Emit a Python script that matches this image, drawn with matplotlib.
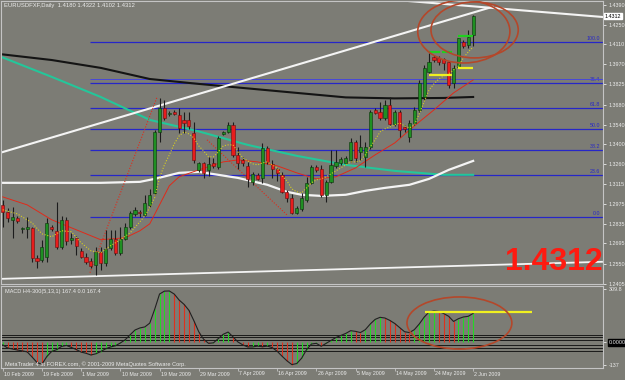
import matplotlib.pyplot as plt
from matplotlib.patches import Ellipse, Rectangle
from matplotlib.transforms import blended_transform_factory

plt.rcParams['font.family'] = ['Liberation Sans', 'DejaVu Sans']

# EURUSD daily bars, 10 Feb 2009 .. 2 Jun 2009
opens = [1.2968, 1.2918, 1.2862, 1.2876, 1.2798, 1.2798, 1.2805, 1.2592, 1.2577, 1.2599,
         1.2812, 1.2784, 1.2670, 1.2862, 1.2720, 1.2734, 1.2641, 1.2599, 1.2570, 1.2542,
         1.2634, 1.2556, 1.2663, 1.2727, 1.2627, 1.2727, 1.2812, 1.2904, 1.2918, 1.2897,
         1.2968, 1.3054, 1.3488, 1.3658, 1.3615, 1.3629, 1.3608, 1.3573, 1.3573, 1.3480,
         1.3217, 1.3267, 1.3217, 1.3267, 1.3239, 1.3473, 1.3488, 1.3537, 1.3324, 1.3288,
         1.3246, 1.3132, 1.3182, 1.3160, 1.3374, 1.3260, 1.3224, 1.3182, 1.3061, 1.3018,
         1.2911, 1.2940, 1.3004, 1.3125, 1.3239, 1.3224, 1.3040, 1.3132, 1.3246, 1.3267,
         1.3267, 1.3288, 1.3417, 1.3345, 1.3310, 1.3381, 1.3644, 1.3630, 1.3587, 1.3679,
         1.3544, 1.3630, 1.3523, 1.3452, 1.3551, 1.3644, 1.3736, 1.3914, 1.4021, 1.4014,
         1.4007, 1.3985, 1.3836, 1.3950, 1.4127, 1.4106, 1.4180]
highs = [1.3004, 1.2947, 1.2954, 1.2890, 1.2812, 1.2883, 1.2812, 1.2613, 1.2720, 1.2876,
         1.2826, 1.2990, 1.2890, 1.2883, 1.2770, 1.2748, 1.2663, 1.2627, 1.2592, 1.2670,
         1.2670, 1.2791, 1.2791, 1.2791, 1.2812, 1.2840, 1.2925, 1.2954, 1.2933, 1.3040,
         1.3082, 1.3502, 1.3729, 1.3715, 1.3636, 1.3644, 1.3658, 1.3629, 1.3629, 1.3559,
         1.3274, 1.3274, 1.3310, 1.3303, 1.3459, 1.3494, 1.3559, 1.3559, 1.3381, 1.3310,
         1.3274, 1.3203, 1.3196, 1.3410, 1.3388, 1.3288, 1.3231, 1.3203, 1.3075, 1.3047,
         1.2961, 1.3054, 1.3168, 1.3253, 1.3253, 1.3253, 1.3146, 1.3359, 1.3359, 1.3310,
         1.3317, 1.3445, 1.3431, 1.3466, 1.3416, 1.3643, 1.3658, 1.3700, 1.3715, 1.3736,
         1.3644, 1.3644, 1.3537, 1.3573, 1.3665, 1.3857, 1.3964, 1.4049, 1.4035, 1.4028,
         1.4014, 1.3992, 1.3964, 1.4156, 1.4142, 1.4213, 1.4322]
lows = [1.2812, 1.2848, 1.2734, 1.2840, 1.2770, 1.2734, 1.2563, 1.2520, 1.2563, 1.2563,
        1.2784, 1.2656, 1.2656, 1.2684, 1.2690, 1.2613, 1.2592, 1.2548, 1.2520, 1.2471,
        1.2506, 1.2535, 1.2648, 1.2613, 1.2613, 1.2720, 1.2798, 1.2890, 1.2883, 1.2890,
        1.2954, 1.3040, 1.3417, 1.3573, 1.3601, 1.3608, 1.3480, 1.3480, 1.3509, 1.3267,
        1.3203, 1.3161, 1.3175, 1.3231, 1.3224, 1.3466, 1.3480, 1.3310, 1.3224, 1.3246,
        1.3097, 1.3111, 1.3146, 1.3125, 1.3260, 1.3160, 1.3139, 1.3054, 1.2990, 1.2904,
        1.2904, 1.2925, 1.2990, 1.3118, 1.3203, 1.3025, 1.2990, 1.3125, 1.3231, 1.3253,
        1.3260, 1.3274, 1.3274, 1.3288, 1.3238, 1.3366, 1.3615, 1.3573, 1.3573, 1.3537,
        1.3530, 1.3452, 1.3488, 1.3417, 1.3537, 1.3630, 1.3715, 1.3907, 1.3985, 1.3964,
        1.3928, 1.3800, 1.3800, 1.3950, 1.4085, 1.4085, 1.4102]
closes = [1.2918, 1.2876, 1.2883, 1.2855, 1.2805, 1.2812, 1.2592, 1.2570, 1.2670, 1.2840,
          1.2798, 1.2670, 1.2862, 1.2713, 1.2734, 1.2677, 1.2599, 1.2563, 1.2535, 1.2634,
          1.2556, 1.2655, 1.2727, 1.2627, 1.2727, 1.2812, 1.2911, 1.2933, 1.2911, 1.2982,
          1.3040, 1.3488, 1.3658, 1.3587, 1.3622, 1.3615, 1.3516, 1.3551, 1.3530, 1.3288,
          1.3267, 1.3196, 1.3260, 1.3246, 1.3445, 1.3484, 1.3537, 1.3324, 1.3267, 1.3267,
          1.3153, 1.3189, 1.3153, 1.3374, 1.3274, 1.3224, 1.3196, 1.3061, 1.3018, 1.2911,
          1.2947, 1.3018, 1.3125, 1.3239, 1.3217, 1.3040, 1.3132, 1.3253, 1.3274, 1.3296,
          1.3303, 1.3417, 1.3303, 1.3381, 1.3381, 1.3630, 1.3622, 1.3587, 1.3679, 1.3544,
          1.3630, 1.3502, 1.3509, 1.3551, 1.3644, 1.3836, 1.3943, 1.3985, 1.4000, 1.3985,
          1.3978, 1.3822, 1.3943, 1.4156, 1.4099, 1.4163, 1.4312]

# moving averages, sampled at bar indices
black_ma_bars = [0, 10, 20, 30, 40, 50, 60, 70, 80, 90, 96]
black_ma = [1.4039, 1.3999, 1.3943, 1.3864, 1.3829, 1.3797, 1.3765, 1.3733, 1.3726, 1.3729, 1.3736]
teal_ma_bars = [0, 10, 20, 30, 40, 50, 60, 70, 80, 90, 96]
teal_ma = [1.4017, 1.3879, 1.3736, 1.3573, 1.3491, 1.3395, 1.3317, 1.3253, 1.3210, 1.3182, 1.3182]
red_ma_bars = [0, 5, 10, 15, 20, 25, 28, 30, 32, 34, 36, 40, 45, 48, 52, 56, 60, 64, 68,
               72, 76, 80, 84, 88, 92, 96]
red_ma = [1.3025, 1.2968, 1.2862, 1.2791, 1.2720, 1.2734, 1.2784, 1.2833, 1.2968, 1.3104,
          1.3168, 1.3217, 1.3274, 1.3288, 1.3274, 1.3246, 1.3196, 1.3153, 1.3168, 1.3231,
          1.3324, 1.3409, 1.3530, 1.3644, 1.3765, 1.3857]
white_ma_bars = [0, 10, 20, 28, 31, 36, 40, 44, 48, 54, 58, 61, 65, 70, 74, 78, 83, 87, 91, 96]
white_ma = [1.3125, 1.3125, 1.3125, 1.3132, 1.3153, 1.3196, 1.3203, 1.3182, 1.3160, 1.3111,
            1.3061, 1.3040, 1.3032, 1.3040, 1.3068, 1.3089, 1.3111, 1.3153, 1.3217, 1.3281]
yellow_ma_bars = [0, 3, 6, 8, 10, 12, 14, 16, 18, 20, 22, 24, 26, 28, 29, 30, 31, 32, 33, 34,
                  35, 36, 37, 38, 39, 40, 41, 42, 43, 44, 45, 46, 47, 48, 49, 50, 51, 52, 53,
                  54, 55, 56, 57, 58, 59, 60, 61, 62, 63, 64, 65, 66, 67, 68, 69, 70, 71, 72,
                  73, 74, 75, 76, 77, 78, 79, 80, 81, 82, 83, 84, 85, 86, 87, 88, 89, 90, 91,
                  92, 93, 94, 95, 96]
yellow_ma = [1.2933, 1.2904, 1.2840, 1.2762, 1.2741, 1.2784, 1.2777, 1.2698, 1.2641, 1.2627,
             1.2677, 1.2720, 1.2769, 1.2848, 1.2890, 1.2947, 1.3018, 1.3160, 1.3253, 1.3324,
             1.3402, 1.3459, 1.3487, 1.3473, 1.3445, 1.3388, 1.3352, 1.3310, 1.3310, 1.3345,
             1.3388, 1.3395, 1.3395, 1.3345, 1.3303, 1.3281, 1.3260, 1.3253, 1.3267, 1.3274,
             1.3253, 1.3231, 1.3175, 1.3139, 1.3082, 1.3061, 1.3054, 1.3089, 1.3125, 1.3146,
             1.3153, 1.3168, 1.3189, 1.3210, 1.3231, 1.3253, 1.3274, 1.3274, 1.3281, 1.3324,
             1.3381, 1.3431, 1.3487, 1.3509, 1.3523, 1.3537, 1.3551, 1.3530, 1.3516, 1.3537,
             1.3616, 1.3701, 1.3786, 1.3829, 1.3864, 1.3886, 1.3900, 1.3928, 1.3957, 1.4014,
             1.4056, 1.4092]

# drawn objects: (bar, price) end points
white_up_line = [(0, 1.3344), (100, 1.4378)]
white_down_line = [(81, 1.4424), (122.5, 1.4305)]
white_bottom_line = [(0, 1.2442), (122.3, 1.2563)]
red_dot_line_a = [(17.8, 1.2485), (31.5, 1.3736)]
red_dot_line_b = [(41.7, 1.3431), (58, 1.2897)]
yellow_marks = [((87, 91.7), 1.3893), ((92.9, 96), 1.3943)]
green_marks = [((87, 89.2), 1.4053), ((89.6, 91.7), 1.4053), ((92.9, 96), 1.4170)]
fib_start_bar = 17.8
fib_low, fib_high = 1.2885, 1.4130
fib_levels = [0.0, 23.6, 38.2, 50.0, 61.8, 76.4, 100.0]
fib_extra = 78.6

price_ticks = [1.4390, 1.4250, 1.4110, 1.3970, 1.3825, 1.3680, 1.3540, 1.3400, 1.3260,
               1.3115, 1.2975, 1.2835, 1.2695, 1.2550, 1.2405]
last_price = 1.4312

# MACD H4-300(5,13,1)
macd = [-17, -35, -41, -47, -52, -58, -88, -120, -130, -85, -55, -45, -26, -20, -32, -44,
        -59, -66, -76, -69, -56, -40, -29, -22, -6, 13, 42, 70, 82, 88, 110, 190, 280, 297,
        298, 280, 245, 220, 185, 125, 60, 16, -8, -5, 20, 45, 58, 30, 0, -17, -29, -29, -24,
        -28, -24, -33, -54, -83, -110, -132, -126, -95, -45, -12, -8, -25, -8, 9, 26, 38, 50,
        66, 62, 55, 72, 105, 132, 144, 140, 126, 108, 84, 60, 55, 72, 105, 145, 175, 181,
        178, 166, 150, 120, 136, 146, 150, 167]
macd_levels = [41, 27, 12, -17, -37, -53]
macd_yellow = ((86.2, 108), 175)

date_bars = [0, 8, 16, 24, 32, 40, 48, 56, 64, 72, 80, 88, 96]
date_labels = ["10 Feb 2009", "19 Feb 2009", "1 Mar 2009", "10 Mar 2009", "19 Mar 2009",
               "29 Mar 2009", "7 Apr 2009", "16 Apr 2009", "26 Apr 2009", "5 May 2009",
               "14 May 2009", "24 May 2009", "2 Jun 2009"]

bg = '#7c7c75'
txt = '#ececec'
border = '#c4c4c4'
fib_blue = '#2626c8'
oval = '#b4472a'

fig = plt.figure(figsize=(6.25, 3.8), dpi=100, facecolor=bg)
ax = fig.add_axes([1 / 625, 1 - 284 / 380, 602 / 625, 283 / 380], facecolor=bg)
ax.set_xlim(-0.35, 122.5)
ax.set_ylim(1.2407, 1.4419)

# fibonacci
for lv in fib_levels:
    p = fib_low + (fib_high - fib_low) * lv / 100
    ax.hlines(p, fib_start_bar, 122.5, color=fib_blue, lw=0.9, zorder=1)
    ax.text(121.9, p + 0.0007, '%.1f' % lv, color=fib_blue, fontsize=3.8,
            ha='right', va='bottom', zorder=1)
p = fib_low + (fib_high - fib_low) * fib_extra / 100
ax.hlines(p, fib_start_bar, 122.5, color='#4848d8', lw=0.7, zorder=1)

# moving averages
ax.plot(black_ma_bars, black_ma, color='#141414', lw=1.5, zorder=2)
ax.plot(teal_ma_bars, teal_ma, color='#24c69a', lw=1.5, zorder=2)
ax.plot(white_ma_bars, white_ma, color='#f4f4f4', lw=1.6, zorder=2)
ax.plot(red_ma_bars, red_ma, color='#e02a1a', lw=0.7, zorder=2)

# trend lines
for line, col, lw, ls in [(white_up_line, '#f4f4f4', 1.5, '-'),
                          (white_down_line, '#f4f4f4', 1.5, '-'),
                          (white_bottom_line, '#f4f4f4', 1.3, '-'),
                          (red_dot_line_a, '#e02a1a', 0.8, (0, (1, 1.5))),
                          (red_dot_line_b, '#e02a1a', 0.8, (0, (1, 1.5)))]:
    ax.plot([line[0][0], line[1][0]], [line[0][1], line[1][1]], color=col, lw=lw, ls=ls,
            zorder=2)

# candles
for i in range(len(opens)):
    o, h, l, c = opens[i], highs[i], lows[i], closes[i]
    ax.vlines(i, l, h, color='#1c1c1c', lw=0.8, zorder=3)
    up = c >= o
    face = '#1f8f22' if up else '#e81c1c'
    edge = '#0c300c' if up else '#6a0f0f'
    body = max(abs(c - o), 0.0005)
    ax.add_patch(Rectangle((i - 0.32, min(o, c)), 0.64, body, facecolor=face,
                           edgecolor=edge, lw=0.4, zorder=4))

ax.plot(yellow_ma_bars, yellow_ma, color='#d8d020', lw=0.8, ls=(0, (1, 1.5)), zorder=5)

for (x0, x1), p in yellow_marks:
    ax.hlines(p, x0, x1, color='#f0f020', lw=1.6, zorder=5)
for (x0, x1), p in green_marks:
    ax.hlines(p, x0, x1, color='#20d020', lw=1.6, zorder=5)

ax.add_patch(Ellipse((94.1, 1.4202), 18.8, 0.0448, fill=False, edgecolor=oval, lw=1.2,
                     zorder=6))
ax.add_patch(Ellipse((96.3, 1.4213), 17.8, 0.0398, fill=False, edgecolor=oval, lw=1.2,
                     zorder=6))

ax.text(102.5, 1.2560, '1.4312', color='#ff1a10', fontsize=23, fontweight='bold',
        ha='left', va='center', zorder=7)

ax.yaxis.tick_right()
ax.set_yticks(price_ticks)
ax.set_yticklabels(['%.4f' % t for t in price_ticks])
ax.tick_params(axis='y', colors=txt, labelsize=3.9, length=2, width=0.6, pad=2)
ax.set_xticks([])
for s in ax.spines.values():
    s.set_color(border)
    s.set_linewidth(0.8)
ax.text(1.003, last_price, '%.4f' % last_price, transform=blended_transform_factory(
        ax.transAxes, ax.transData), fontsize=3.9, color='black', ha='left', va='center',
        bbox=dict(facecolor='white', edgecolor='white', pad=0.3), zorder=8)

fig.text(4 / 625, 1 - 6 / 380, 'EURUSDFXF,Daily  %.4f %.4f %.4f %.4f'
         % (opens[-1], highs[-1], lows[-1], closes[-1]), color=txt, fontsize=4.2, va='center')

# MACD pane
ax2 = fig.add_axes([1 / 625, 1 - 368 / 380, 602 / 625, 82 / 380], facecolor=bg)
ax2.set_xlim(-0.35, 122.5)
ax2.set_ylim(-152, 327)
ax2.hlines(macd_levels, -0.35, 122.5, color='#1a1a1a', lw=0.7, zorder=1)
bar_cols = ['#24d824' if i == 0 or macd[i] >= macd[i - 1] else '#e0301c'
            for i in range(len(macd))]
ax2.vlines(range(len(macd)), 0, macd, colors=bar_cols, lw=0.8, zorder=2)
ax2.plot(range(len(macd)), macd, color='#202020', lw=0.8, zorder=3)
(x0, x1), v = macd_yellow
ax2.hlines(v, x0, x1, color='#f0f020', lw=1.6, zorder=4)
ax2.add_patch(Ellipse((93.2, 111), 21.4, 304, fill=False, edgecolor=oval, lw=1.2, zorder=5))

ax2.yaxis.tick_right()
ax2.set_yticks([309.8, 0, -137])
ax2.set_yticklabels(['309.8', '0.0000', '-137'])
ax2.tick_params(axis='y', colors=txt, labelsize=3.9, length=2, width=0.6, pad=2)
ax2.get_yticklabels()[1].set_bbox(dict(facecolor='black', edgecolor='black', pad=0.4))
ax2.set_xticks(date_bars)
ax2.set_xticklabels([])
ax2.tick_params(axis='x', colors=border, length=2, width=0.6)
for s in ax2.spines.values():
    s.set_color(border)
    s.set_linewidth(0.8)

ax2.text(4 / 602, 1 - 5 / 82, 'MACD H4-300(5,13,1) 167.4 0.0 167.4', transform=ax2.transAxes,
         color=txt, fontsize=4.0, va='center')
ax2.text(4 / 602, 4 / 82, 'MetaTrader 4 at FOREX.com, \u00a9 2001-2009 MetaQuotes Software Corp.',
         transform=ax2.transAxes, color=txt, fontsize=4.1, va='center')

dt = blended_transform_factory(ax2.transData, fig.transFigure)
for b, lab in zip(date_bars, date_labels):
    ax2.text(b + 0.25, 1 - 374 / 380, lab, transform=dt, color=txt, fontsize=3.8,
             ha='left', va='center', clip_on=False)

fig.savefig('out.png', dpi=100, facecolor=bg)
